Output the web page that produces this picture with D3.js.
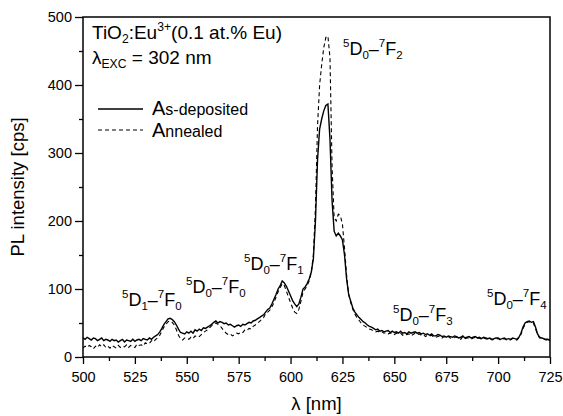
<!DOCTYPE html>
<html lang="en">
<head>
    <meta charset="UTF-8">
    <title>TiO2:Eu PL spectra</title>
    <script src="https://d3js.org/d3.v7.min.js"></script>
    <style type="text/css">
        body { margin: 0; background: #fff; }
        text { font-family: "Liberation Sans", Arial, sans-serif; fill: #000; }
    </style>
</head>
<body>
<script type="text/javascript">

// wavelength grid (nm), one sample per nm
var wavelength = [
    500,501,502,503,504,505,506,507,508,509,510,511,512,513,514,515,516,517,518,519,
    520,521,522,523,524,525,526,527,528,529,530,531,532,533,534,535,536,537,538,539,
    540,541,542,543,544,545,546,547,548,549,550,551,552,553,554,555,556,557,558,559,
    560,561,562,563,564,565,566,567,568,569,570,571,572,573,574,575,576,577,578,579,
    580,581,582,583,584,585,586,587,588,589,590,591,592,593,594,595,596,597,598,599,
    600,601,602,603,604,605,606,607,608,609,610,611,612,613,614,615,616,617,618,619,
    620,621,622,623,624,625,626,627,628,629,630,631,632,633,634,635,636,637,638,639,
    640,641,642,643,644,645,646,647,648,649,650,651,652,653,654,655,656,657,658,659,
    660,661,662,663,664,665,666,667,668,669,670,671,672,673,674,675,676,677,678,679,
    680,681,682,683,684,685,686,687,688,689,690,691,692,693,694,695,696,697,698,699,
    700,701,702,703,704,705,706,707,708,709,710,711,712,713,714,715,716,717,718,719,
    720,721,722,723,724,725
];

// As-deposited (solid)
var asDeposited = [
    28,26,29,27,25,28,27,24,26,28, 24,26,25,23,26,24,25,22,24,26,
    22,25,24,23,26,23,25,26,24,27, 26,25,28,26,29,31,33,37,42,48,
    52,56,57,55,52,47,41,36,35,34, 37,35,38,35,40,38,41,39,43,42,
    44,46,48,51,53,50,52,51,49,50, 47,48,46,44,46,47,45,48,47,49,
    51,50,53,54,56,58,60,62,66,70, 72,78,85,92,100,105,112,109,104,97,
    90,83,78,74,78,88,100,103,108,115, 125,145,200,290,335,350,362,370,372,320,
    230,185,178,182,178,172,150,115,92,82, 72,66,62,58,55,52,50,47,45,44,
    42,40,41,38,39,37,38,39,36,38, 36,37,35,38,35,36,34,37,35,36,
    37,35,36,34,35,33,34,32,34,31, 31,33,32,30,31,29,31,30,29,31,
    30,28,29,31,28,29,30,28,29,30, 28,29,27,29,28,27,28,26,27,28,
    28,26,27,28,26,27,26,28,27,26, 29,35,44,50,52,53,51,52,44,34,
    29,28,27,26,26,24
];

// Annealed (dashed)
var annealed = [
    13,16,14,17,15,12,16,14,18,15, 18,14,16,13,17,15,13,17,14,16,
    15,18,14,17,16,14,19,17,18,16, 21,19,20,24,22,26,28,32,38,44,
    48,52,53,51,47,40,32,27,25,28, 28,26,29,27,31,29,30,33,36,38,
    40,43,46,48,50,48,46,42,38,35, 33,34,31,33,35,34,37,36,40,39,
    42,41,45,47,50,52,55,58,64,66, 69,74,80,88,96,102,108,105,97,88,
    80,72,66,64,70,82,95,100,105,112, 125,150,220,340,400,430,455,470,472,440,
    280,205,200,210,208,195,160,120,92,80, 70,63,58,54,50,47,45,43,41,40,
    38,37,38,36,37,35,36,34,35,36, 33,35,34,35,32,34,33,34,31,33,
    35,33,34,32,33,30,32,31,32,29, 29,30,31,28,30,28,30,28,27,29,
    29,27,26,30,27,28,28,26,28,29, 27,28,26,28,27,26,27,25,26,27,
    27,25,26,27,25,26,25,27,26,25, 28,33,42,48,51,52,50,50,42,33,
    28,27,26,25,25,23
];

var xTicks = [500, 525, 550, 575, 600, 625, 650, 675, 700, 725];
var xMinor = [512.5, 537.5, 562.5, 587.5, 612.5, 637.5, 662.5, 687.5, 712.5];
var yTicks = [0, 100, 200, 300, 400, 500];
var yMinor = [50, 150, 250, 350, 450];

// transition labels 5D(lower) - 7F(upper)
var transitions = [
    {lower: "1", upper: "0"},
    {lower: "0", upper: "0"},
    {lower: "0", upper: "1"},
    {lower: "0", upper: "2"},
    {lower: "0", upper: "3"},
    {lower: "0", upper: "4"}
];
var transitionPos = [[122, 306], [186, 293], [244, 270], [343, 55], [393, 321], [487, 305]];

var w = 563, h = 416;
var plotL = 83, plotR = 550, plotT = 17, plotB = 357;

var svg = d3.select("body").append("svg")
    .attr("width", w)
    .attr("height", h);

var xScale = d3.scaleLinear().domain([500, 725]).range([plotL, plotR]);
var yScale = d3.scaleLinear().domain([0, 500]).range([plotB, plotT]);

// axes
svg.append("g")
    .attr("transform", "translate(0," + plotB + ")")
    .call(d3.axisBottom(xScale).tickValues(xTicks).tickSize(7).tickPadding(8).tickFormat(d3.format("d")));
svg.append("g")
    .attr("transform", "translate(0," + plotB + ")")
    .call(d3.axisBottom(xScale).tickValues(xMinor).tickSize(4).tickFormat(""));
svg.append("g")
    .attr("transform", "translate(" + plotL + ",0)")
    .call(d3.axisLeft(yScale).tickValues(yTicks).tickSize(8).tickPadding(3).tickFormat(d3.format("d")));
svg.append("g")
    .attr("transform", "translate(" + plotL + ",0)")
    .call(d3.axisLeft(yScale).tickValues(yMinor).tickSize(4).tickFormat(""));

svg.selectAll(".domain").remove();
svg.selectAll(".tick line").attr("stroke", "#000").attr("stroke-width", 1.3);
svg.selectAll(".tick text").attr("font-size", "14.5px")
    .attr("font-family", "Liberation Sans, Arial, sans-serif").attr("fill", "#000");

// spectra
var line = d3.line()
    .x(function(d, i) { return xScale(wavelength[i]); })
    .y(function(d) { return yScale(d); });

svg.append("path")
    .datum(annealed)
    .attr("d", line)
    .attr("fill", "none")
    .attr("stroke", "#000")
    .attr("stroke-width", 1.1)
    .attr("stroke-dasharray", "4,3");

svg.append("path")
    .datum(asDeposited)
    .attr("d", line)
    .attr("fill", "none")
    .attr("stroke", "#000")
    .attr("stroke-width", 1.4);

// frame
svg.append("rect")
    .attr("x", plotL).attr("y", plotT)
    .attr("width", plotR - plotL).attr("height", plotB - plotT)
    .attr("fill", "none").attr("stroke", "#000").attr("stroke-width", 1.5);

// axis titles
svg.append("text")
    .attr("x", (plotL + plotR) / 2).attr("y", 410)
    .attr("text-anchor", "middle").attr("font-size", "18.5px")
    .text("\u03bb [nm]");

svg.append("text")
    .attr("transform", "translate(24," + ((plotT + plotB) / 2) + ") rotate(-90)")
    .attr("text-anchor", "middle").attr("font-size", "18.5px")
    .text("PL intensity [cps]");

// rich text helper: pieces of [text, "sup"|"sub"|null, size]
function rich(x, y, size, pieces) {
    var t = svg.append("text").attr("x", x).attr("y", y).attr("font-size", size + "px");
    var shift = 0;
    pieces.forEach(function(p) {
        var s = p[2] || size;
        var target = 0;
        if (p[1] === "sup") { s = size * 0.64; target = -size * 0.42; }
        if (p[1] === "sub") { s = size * 0.64; target = size * 0.22; }
        var dy = target - shift;
        shift = target;
        t.append("tspan").attr("dy", dy).attr("font-size", s + "px").text(p[0]);
    });
    return t;
}

rich(92, 39, 19, [["TiO"], ["2", "sub"], [":Eu"], ["3+", "sup"], ["(0.1 at.% Eu)"]]);
rich(92, 64, 19, [["\u03bb"], ["EXC", "sub"], [" = 302 nm"]]);

// legend
svg.append("line").attr("x1", 98).attr("x2", 143).attr("y1", 109).attr("y2", 109)
    .attr("stroke", "#000").attr("stroke-width", 1.4);
rich(152, 115, 16, [["A", null, 20], ["s-deposited"]]);
svg.append("line").attr("x1", 98).attr("x2", 143).attr("y1", 130).attr("y2", 130)
    .attr("stroke", "#000").attr("stroke-width", 1.1).attr("stroke-dasharray", "4,3");
rich(152, 137, 16, [["A", null, 20], ["nnealed"]]);

// transition labels
transitions.forEach(function(tr, i) {
    rich(transitionPos[i][0], transitionPos[i][1], 18,
        [["5", "sup"], ["D"], [tr.lower, "sub"], ["\u2013"], ["7", "sup"], ["F"], [tr.upper, "sub"]]);
});

</script>
</body>
</html>
